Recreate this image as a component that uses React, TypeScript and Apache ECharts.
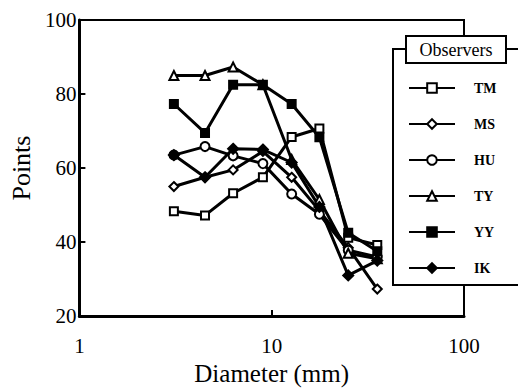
import React, { useEffect, useRef } from "react";
import * as echarts from "echarts";

const diameters = [3.1, 4.5, 6.3, 9, 12.7, 17.7, 25, 35.4];
const observers = ["TM", "MS", "HU", "TY", "YY", "IK"];
const tmPoints = [48.3, 47.2, 53.2, 57.5, 68.4, 70.7, 41.2, 39.2];
const msPoints = [55, 57.5, 59.5, 64.5, 57.5, 48.5, 38.5, 27.3];
const huPoints = [63.5, 65.8, 63.3, 61.2, 53, 47.5, 37.8, 36];
const tyPoints = [85, 85, 87.3, 82.5, 62.3, 51.5, 37, 35.5];
const yyPoints = [77.3, 69.5, 82.5, 82.5, 77.3, 68.3, 42.5, 37.5];
const ikPoints = [63.5, 57.5, 65.2, 65, 61.5, 49.5, 31, 35];
const yTicks = [20, 40, 60, 80, 100];
const xTicks = [1, 10, 100];

const seriesValues = [tmPoints, msPoints, huPoints, tyPoints, yyPoints, ikPoints];
const symbols = ["emptyRect", "emptyDiamond", "emptyCircle", "emptyTriangle", "rect", "diamond"];
const symbolSizes = [8, 9, 9, 9, 8, 10];

export default function App() {
  const ref = useRef<HTMLDivElement>(null);
  useEffect(() => {
    if (!ref.current) return;
    const chart = echarts.init(ref.current, null, { renderer: "svg" });
    const font = "Liberation Serif";
    chart.setOption({
      animation: false,
      backgroundColor: "#fff",
      textStyle: { fontFamily: font, color: "#000" },
      grid: {
        left: 76,
        right: 54,
        top: 20,
        bottom: 73,
        show: true,
        borderColor: "#000",
        borderWidth: 2,
      },
      xAxis: {
        type: "log",
        logBase: 10,
        min: xTicks[0],
        max: xTicks[xTicks.length - 1],
        name: "Diameter (mm)",
        nameLocation: "middle",
        nameGap: 44,
        nameTextStyle: { fontSize: 25, fontFamily: font, color: "#000" },
        axisLine: { lineStyle: { color: "#000", width: 3 } },
        axisTick: { inside: true, length: 6, lineStyle: { color: "#000", width: 2 } },
        minorTick: { show: false },
        splitLine: { show: false },
        axisLabel: { fontSize: 21, fontFamily: font, color: "#000", margin: 19 },
      },
      yAxis: {
        type: "value",
        min: yTicks[0],
        max: yTicks[yTicks.length - 1],
        interval: 20,
        name: "Points",
        nameLocation: "middle",
        nameGap: 44,
        nameTextStyle: { fontSize: 26, fontFamily: font, color: "#000" },
        axisLine: { show: true, lineStyle: { color: "#000", width: 3 } },
        axisTick: { show: true, inside: true, length: 6, lineStyle: { color: "#000", width: 2 } },
        splitLine: { show: false },
        axisLabel: { fontSize: 21, fontFamily: font, color: "#000", margin: 3 },
      },
      legend: {
        data: observers,
        orient: "vertical",
        left: 403,
        top: 76,
        itemWidth: 46,
        itemHeight: 12,
        itemGap: 22,
        lineStyle: { width: 2 },
        textStyle: {
          fontFamily: font,
          fontSize: 14,
          fontWeight: "bold",
          color: "#000",
          padding: [0, 0, 0, 14],
        },
        z: 20,
      },
      graphic: [
        {
          type: "rect",
          z: 10,
          shape: { x: 393, y: 49, width: 140, height: 236 },
          style: { fill: "#fff", stroke: "#000", lineWidth: 2 },
        },
        {
          type: "rect",
          z: 11,
          shape: { x: 406, y: 36, width: 100, height: 27 },
          style: { fill: "#fff", stroke: "#000", lineWidth: 2 },
        },
        {
          type: "text",
          z: 12,
          x: 456,
          y: 49.5,
          style: {
            text: "Observers",
            font: "18px Liberation Serif",
            fill: "#000",
            align: "center",
            verticalAlign: "middle",
          },
        },
      ],
      series: observers.map((name, i) => ({
        name,
        type: "line",
        data: diameters.map((d, j) => [d, seriesValues[i][j]]),
        symbol: symbols[i],
        symbolSize: symbolSizes[i],
        showSymbol: true,
        lineStyle: { color: "#000", width: 3 },
        itemStyle: { color: "#000", borderColor: "#000", borderWidth: 2 },
        z: 2,
      })),
    });
    return () => chart.dispose();
  }, []);
  return (
    <div
      ref={ref}
      style={{ position: "fixed", left: 0, top: 0, width: 518, height: 391, background: "#fff" }}
    />
  );
}
